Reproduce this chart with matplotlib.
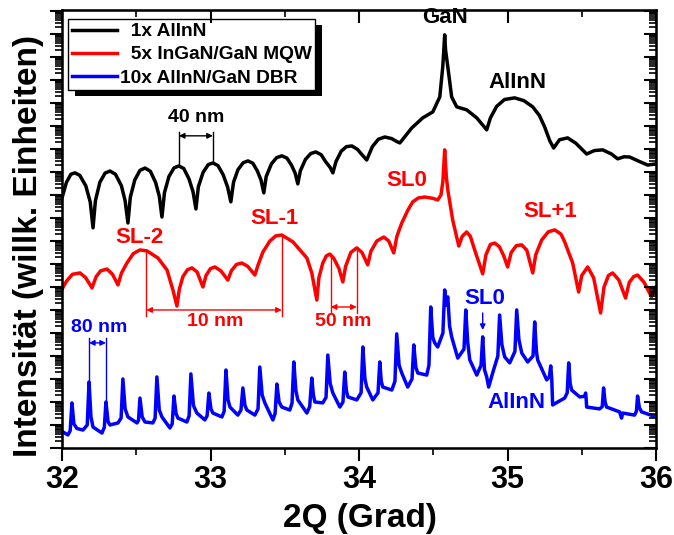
import numpy as np
import matplotlib
matplotlib.use("Agg")
import matplotlib.pyplot as plt
from matplotlib.ticker import LogLocator, NullFormatter, MultipleLocator
from matplotlib.patches import Rectangle

plt.rcParams['font.family'] = ['Liberation Sans', 'DejaVu Sans']
plt.rcParams['font.weight'] = 'bold'

# 2theta (Grad) and log10 of intensity (willk. Einheiten)
black_x = [32.000, 32.03, 32.06, 32.087, 32.12, 32.16, 32.19, 32.209,
           32.225, 32.255, 32.29, 32.323, 32.36, 32.40, 32.425, 32.444,
           32.46, 32.49, 32.525, 32.559, 32.595, 32.63, 32.655, 32.673,
           32.69, 32.72, 32.755, 32.787, 32.82, 32.855, 32.882, 32.902,
           32.918, 32.95, 32.985, 33.016, 33.05, 33.085, 33.115, 33.137,
           33.155, 33.185, 33.22, 33.252, 33.285, 33.315, 33.34, 33.359,
           33.375, 33.41, 33.445, 33.480, 33.515, 33.545, 33.57, 33.588,
           33.605, 33.64, 33.675, 33.709, 33.745, 33.775, 33.805, 33.824,
           33.845, 33.88, 33.915, 33.952, 33.99, 34.02, 34.052,
           34.09, 34.13, 34.174, 34.22, 34.255, 34.275,
           34.355, 34.429, 34.497, 34.544, 34.564, 34.571, 34.577, 34.583, 34.598,
           34.624, 34.658, 34.725, 34.793, 34.860,
           34.885, 34.927, 34.98, 35.048, 35.11, 35.170, 35.215, 35.250, 35.285, 35.311,
           35.35, 35.405, 35.46, 35.533, 35.585, 35.641, 35.70, 35.742,
           35.785, 35.822, 35.89, 35.944, 36.0]
black_y = [10.87, 11.55, 11.90, 11.96, 11.85, 11.40, 10.70, 9.57,
           10.75, 11.55, 11.95, 12.04, 11.90, 11.40, 10.75, 9.78,
           10.90, 11.65, 12.07, 12.17, 12.03, 11.55, 10.95, 10.04,
           11.10, 11.80, 12.18, 12.26, 12.15, 11.70, 11.15, 10.39,
           11.35, 11.98, 12.32, 12.39, 12.28, 11.88, 11.35, 10.70,
           11.55, 12.10, 12.40, 12.48, 12.38, 12.05, 11.65, 11.09,
           11.80, 12.35, 12.62, 12.70, 12.60, 12.30, 11.95, 11.48,
           12.05, 12.55, 12.80, 12.87, 12.75, 12.45, 12.20, 11.96,
           12.45, 12.90, 13.10, 13.13, 12.98, 12.75, 12.52,
           13.10, 13.42, 13.52, 13.45, 13.32, 13.26,
           13.91, 14.35, 14.61, 15.26, 16.57, 17.30, 17.96, 17.30, 16.57,
           15.26, 14.83, 14.70, 14.35, 13.83,
           14.35, 14.85, 15.15, 15.22, 15.10, 14.83, 14.45, 13.96, 13.35, 13.04,
           13.40, 13.48, 13.25, 12.78, 12.93, 12.96, 12.78, 12.57,
           12.66, 12.65, 12.45, 12.30, 12.35]

red_x = [32.000, 32.03, 32.07, 32.121, 32.16, 32.202,
         32.23, 32.26, 32.303, 32.34, 32.377,
         32.40, 32.437, 32.48, 32.525, 32.572, 32.646, 32.707, 32.747, 32.774,
         32.79, 32.814, 32.845, 32.875, 32.91, 32.949,
         32.97, 33.00, 33.030, 33.07, 33.117,
         33.14, 33.175, 33.211, 33.25, 33.299,
         33.32, 33.353, 33.40, 33.44, 33.480, 33.555, 33.649, 33.682, 33.716,
         33.73, 33.756, 33.78, 33.803, 33.83, 33.865, 33.891,
         33.91, 33.945, 33.985, 34.02, 34.059,
         34.08, 34.12, 34.167, 34.20, 34.234,
         34.255, 34.288, 34.33, 34.362, 34.40, 34.443, 34.50, 34.530, 34.552,
         34.565, 34.577, 34.588, 34.598, 34.631, 34.672,
         34.695, 34.725, 34.75, 34.779, 34.833,
         34.855, 34.885, 34.914, 34.945, 34.975, 35.001,
         35.025, 35.06, 35.096, 35.13, 35.170,
         35.19, 35.230, 35.275, 35.318, 35.36, 35.385, 35.439, 35.479,
         35.50, 35.540, 35.58, 35.627,
         35.65, 35.68, 35.708, 35.75, 35.795,
         35.82, 35.85, 35.876, 35.92, 35.970, 36.0]
red_y = [6.90, 7.25, 7.55, 7.61, 7.40, 6.96,
         7.45, 7.70, 7.78, 7.55, 7.09,
         7.60, 8.04, 8.45, 8.61, 8.57, 8.26, 7.74, 6.87, 6.17,
         6.90, 7.45, 7.75, 7.83, 7.65, 7.00,
         7.50, 7.80, 7.87, 7.70, 7.30,
         7.70, 7.98, 8.04, 7.90, 7.52,
         7.95, 8.52, 9.00, 9.22, 9.26, 8.96, 8.26, 7.61, 6.43,
         7.40, 8.04, 8.35, 8.43, 8.25, 7.80, 7.22,
         7.90, 8.50, 8.70, 8.50, 7.96,
         8.55, 9.00, 9.17, 9.00, 8.48,
         9.20, 9.78, 10.35, 10.70, 10.87, 10.91, 10.85, 10.78, 11.00,
         11.60, 12.96, 11.80, 11.22, 9.91, 8.78,
         9.20, 9.39, 9.20, 8.61, 7.57,
         8.40, 8.85, 8.91, 8.75, 8.35, 7.87,
         8.50, 8.80, 8.83, 8.60, 7.61,
         8.40, 9.04, 9.40, 9.48, 9.30, 8.96, 8.04, 6.78,
         7.50, 7.87, 7.40, 5.87,
         7.00, 7.50, 7.61, 7.30, 6.52,
         7.20, 7.45, 7.52, 7.20, 6.57, 7.00]

blue_x = [32.000, 32.040, 32.055, 32.067, 32.080, 32.10, 32.141, 32.170, 32.182, 32.195, 32.209,
          32.269, 32.285, 32.296, 32.310, 32.323, 32.377, 32.398, 32.410, 32.425, 32.444,
          32.505, 32.515, 32.525, 32.540, 32.559, 32.612, 32.627, 32.639, 32.655, 32.673,
          32.727, 32.742, 32.754, 32.768, 32.781, 32.841, 32.856, 32.868, 32.885, 32.908,
          32.962, 32.977, 32.989, 33.003, 33.016, 33.077, 33.092, 33.104, 33.118, 33.131,
          33.184, 33.205, 33.218, 33.232, 33.245, 33.299, 33.320, 33.332, 33.348, 33.366,
          33.420, 33.435, 33.447, 33.462, 33.480, 33.534, 33.549, 33.561, 33.575, 33.588,
          33.649, 33.668, 33.682, 33.693, 33.703, 33.756, 33.778, 33.790, 33.806, 33.824,
          33.871, 33.892, 33.904, 33.915, 33.925, 33.985, 34.014, 34.026, 34.040, 34.052,
          34.093, 34.128, 34.140, 34.150, 34.160, 34.221, 34.242, 34.254, 34.270, 34.288,
          34.328, 34.357, 34.369, 34.383, 34.396, 34.456, 34.471, 34.483, 34.497, 34.510,
          34.530, 34.565, 34.577, 34.586, 34.591, 34.598, 34.610, 34.624, 34.665,
          34.707, 34.719, 34.732, 34.746, 34.793, 34.822, 34.833, 34.845, 34.860, 34.873,
          34.900, 34.935, 34.947, 34.962, 34.981, 35.015, 35.050, 35.062, 35.077, 35.096,
          35.136, 35.172, 35.183, 35.195, 35.203, 35.264, 35.282, 35.291, 35.298, 35.304,
          35.338, 35.385, 35.402, 35.412, 35.422, 35.432, 35.486, 35.520, 35.526, 35.530,
          35.533, 35.620, 35.638, 35.647, 35.657, 35.667, 35.755, 35.768, 35.775,
          35.856, 35.868, 35.876, 35.888, 35.903, 36.0]
blue_y = [0.72, 0.57, 0.75, 1.96, 1.05, 0.85, 0.78, 1.00, 2.87, 1.35, 0.91,
          0.65, 0.90, 2.00, 1.15, 1.00, 1.09, 1.30, 3.00, 1.70, 1.35,
          1.09, 1.20, 2.17, 1.35, 1.13, 1.09, 1.30, 3.09, 1.65, 1.35,
          0.87, 1.05, 2.26, 1.50, 1.30, 1.13, 1.40, 3.22, 1.85, 1.52,
          1.22, 1.40, 2.39, 1.70, 1.52, 1.35, 1.60, 3.39, 2.10, 1.78,
          1.43, 1.65, 2.61, 1.85, 1.65, 1.43, 1.70, 3.52, 2.30, 1.96,
          1.22, 1.50, 2.78, 2.00, 1.78, 1.65, 1.95, 3.74, 2.50, 2.09,
          1.52, 1.80, 3.04, 2.30, 2.00, 1.96, 2.20, 4.04, 2.80, 2.39,
          1.78, 2.00, 3.30, 2.50, 2.22, 2.09, 2.40, 4.39, 3.00, 2.65,
          2.09, 2.40, 3.74, 2.90, 2.65, 2.52, 2.90, 4.96, 3.60, 3.26,
          2.65, 3.00, 4.48, 3.50, 3.26, 3.17, 3.60, 6.13, 4.80, 4.57,
          4.39, 5.00, 6.87, 6.20, 6.43, 6.57, 5.30, 4.83, 3.91,
          4.30, 6.00, 4.60, 3.83, 3.17, 3.60, 4.83, 3.40, 3.09, 2.65,
          3.26, 4.00, 5.78, 4.50, 3.96, 3.70, 4.20, 6.00, 4.70, 4.13,
          3.74, 4.00, 5.48, 4.20, 3.83, 2.96, 3.10, 3.57, 3.00, 1.87,
          2.00, 2.17, 2.40, 3.70, 2.80, 2.52, 2.22, 2.25, 2.39, 2.10,
          1.78, 1.70, 1.80, 2.61, 2.00, 1.78, 1.57, 1.30, 1.52,
          1.43, 1.60, 2.26, 1.75, 1.57, 1.35]

labels = ['  1x AlInN', '  5x InGaN/GaN MQW', '10x AlInN/GaN DBR']
colors = ['black', '#ff0000', '#0000ff']

fig = plt.figure(figsize=(6.74, 5.35), dpi=100)
ax = fig.add_axes([62 / 674, 1 - 448 / 535, 594 / 674, 438 / 535])

for xs, ys, lab, c in zip([black_x, red_x, blue_x], [black_y, red_y, blue_y], labels, colors):
    ax.plot(xs, 10 ** np.array(ys), color=c, lw=2.5, label=lab, solid_joinstyle='round')

ymin, ymax = 1.0, 10 ** 19.04
ax.set_yscale('log')
ax.set_xlim(32, 36)
ax.set_ylim(ymin, ymax)

ax.xaxis.set_major_locator(MultipleLocator(1))
ax.xaxis.set_minor_locator(MultipleLocator(0.5))
ax.yaxis.set_major_locator(LogLocator(base=10, numticks=40))
ax.yaxis.set_minor_locator(LogLocator(base=10, subs=np.arange(2, 10), numticks=40))
ax.yaxis.set_major_formatter(NullFormatter())
ax.yaxis.set_minor_formatter(NullFormatter())
ax.tick_params(which='major', direction='out', length=9, width=1.5, labelsize=22, pad=3)
ax.tick_params(which='minor', direction='out', length=5, width=1.2)
for lbl in ax.get_xticklabels():
    lbl.set_fontweight('bold')
for sp in ax.spines.values():
    sp.set_linewidth(1.8)

# mirrored ticks on top and right, pointing in
axr = ax.twinx()
axr.set_yscale('log')
axr.set_ylim(ymin, ymax)
axr.yaxis.set_major_locator(LogLocator(base=10, numticks=40))
axr.yaxis.set_minor_locator(LogLocator(base=10, subs=np.arange(2, 10), numticks=40))
axr.yaxis.set_major_formatter(NullFormatter())
axr.yaxis.set_minor_formatter(NullFormatter())
axr.tick_params(which='major', direction='in', length=9, width=1.5)
axr.tick_params(which='minor', direction='in', length=5, width=1.2)
axt = ax.twiny()
axt.set_xlim(32, 36)
axt.xaxis.set_major_locator(MultipleLocator(1))
axt.xaxis.set_minor_locator(MultipleLocator(0.5))
axt.xaxis.set_major_formatter(NullFormatter())
axt.tick_params(which='major', direction='in', length=9, width=1.5)
axt.tick_params(which='minor', direction='in', length=5, width=1.2)

ax.set_xlabel('2Q (Grad)', fontsize=24, fontweight='bold')
ax.set_ylabel('Intensität (willk. Einheiten)', fontsize=24, fontweight='bold')
ax.xaxis.set_label_coords(0.502, -0.125)
ax.yaxis.set_label_coords(-0.03, 0.461)

# peak labels
tk = dict(ha='center', va='center', fontweight='bold')
ax.text(34.577, 10 ** 18.7, 'GaN', color='black', fontsize=16, **tk)
ax.text(35.069, 10 ** 15.87, 'AlInN', color='black', fontsize=16, **tk)
ax.text(32.902, 10 ** 14.35, '40 nm', color='black', fontsize=14, **tk)
ax.text(32.525, 10 ** 9.17, 'SL-2', color='#ff0000', fontsize=16, **tk)
ax.text(33.433, 10 ** 9.96, 'SL-1', color='#ff0000', fontsize=16, **tk)
ax.text(34.322, 10 ** 11.61, 'SL0', color='#ff0000', fontsize=16, **tk)
ax.text(35.291, 10 ** 10.26, 'SL+1', color='#ff0000', fontsize=16, **tk)
ax.text(33.030, 10 ** 5.48, '10 nm', color='#ff0000', fontsize=14, **tk)
ax.text(33.891, 10 ** 5.48, '50 nm', color='#ff0000', fontsize=14, **tk)
ax.text(32.249, 10 ** 5.22, '80 nm', color='#0000ff', fontsize=14, **tk)
ax.text(34.847, 10 ** 6.52, 'SL0', color='#0000ff', fontsize=16, **tk)
ax.text(35.062, 10 ** 1.96, 'AlInN', color='#0000ff', fontsize=16, **tk)


def span(x0, x1, y0a, y0b, ytop, yarrow, c):
    ax.plot([x0, x0], [10 ** y0a, 10 ** ytop], color=c, lw=1)
    ax.plot([x1, x1], [10 ** y0b, 10 ** ytop], color=c, lw=1)
    ax.annotate('', xy=(x1, 10 ** yarrow), xytext=(x0, 10 ** yarrow),
                arrowprops=dict(arrowstyle='<|-|>', color=c, lw=1,
                                mutation_scale=8, shrinkA=0, shrinkB=0))


span(32.787, 33.016, 12.26, 12.39, 13.74, 13.57, 'black')
span(32.568, 33.480, 8.57, 9.26, 5.74, 6.00, '#ff0000')
span(33.810, 33.985, 8.43, 8.70, 5.87, 6.13, '#ff0000')
span(32.182, 32.296, 2.87, 2.00, 4.78, 4.57, '#0000ff')
ax.annotate('', xy=(34.833, 10 ** 5.13), xytext=(34.833, 10 ** 5.87),
            arrowprops=dict(arrowstyle='-|>', color='#0000ff', lw=1,
                            mutation_scale=8, shrinkA=0, shrinkB=0))

leg = ax.legend(loc='upper left', bbox_to_anchor=(6 / 594, 1 - 9 / 438),
                borderaxespad=0, fontsize=13.8, handlelength=2.35,
                handletextpad=0.15, labelspacing=0.3, borderpad=0.2,
                fancybox=False, framealpha=1, edgecolor='black')
leg.get_frame().set_linewidth(1.0)
for t in leg.get_texts():
    t.set_fontweight('bold')
leg.set_zorder(6)

fig.canvas.draw()
bb = leg.get_window_extent()
inv = ax.transAxes.inverted()
(x0, y0), (x1, y1) = inv.transform([[bb.x0 + 7, bb.y0 - 6], [bb.x1 + 7, bb.y1 - 6]])
ax.add_patch(Rectangle((x0, y0), x1 - x0, y1 - y0, transform=ax.transAxes,
                       facecolor='black', edgecolor='none', zorder=5.5, clip_on=False))

fig.savefig('out.png', dpi=100)
